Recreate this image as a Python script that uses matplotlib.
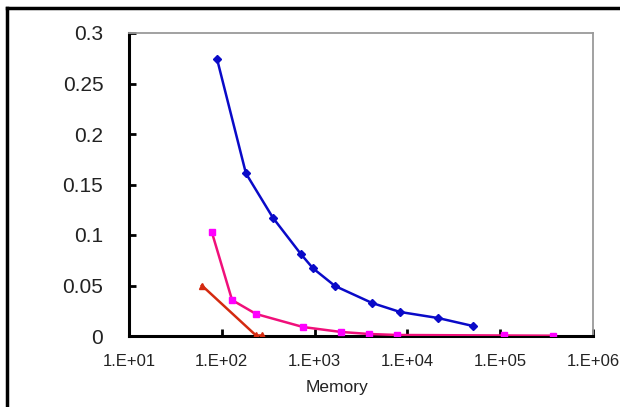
import matplotlib
matplotlib.use("Agg")
import matplotlib.pyplot as plt
from matplotlib.lines import Line2D
from matplotlib.ticker import FixedLocator, FixedFormatter, NullLocator

plt.rcParams['font.family'] = ['Liberation Sans', 'DejaVu Sans']

# Error versus memory for three methods
blue_mem = [89, 182, 356, 713, 961, 1660, 4160, 8320, 21400, 50900]
blue_err = [0.274, 0.161, 0.117, 0.081, 0.067, 0.0495, 0.0327, 0.0238, 0.0178, 0.0099]

pink_mem = [78, 129, 234, 750, 1920, 3860, 7730, 110000, 371000]
pink_err = [0.103, 0.0356, 0.0218, 0.0089, 0.004, 0.002, 0.001, 0.0005, 0.0003]

red_mem = [61, 234, 270]
red_err = [0.050, 0.0005, 0.0005]

x_ticks = [1e1, 1e2, 1e3, 1e4, 1e5, 1e6]
x_tick_labels = ["1.E+01", "1.E+02", "1.E+03", "1.E+04", "1.E+05", "1.E+06"]
y_ticks = [0, 0.05, 0.1, 0.15, 0.2, 0.25, 0.3]
y_tick_labels = ["0", "0.05", "0.1", "0.15", "0.2", "0.25", "0.3"]

fig = plt.figure(figsize=(6.2, 4.07), dpi=100)
ax = fig.add_axes([129 / 620, 71 / 407, 464 / 620, 303 / 407])

ax.plot(blue_mem, blue_err, color="#0A0AC8", lw=1.8, marker="D", ms=4.5,
        mfc="#0A0AC8", mec="#0A0AC8", zorder=4)
ax.plot(pink_mem, pink_err, color="#F0107A", lw=1.8, marker="s", ms=4,
        mfc="#FF00FF", mec="#FF00FF", zorder=3)
ax.plot(red_mem, red_err, color="#D42A10", lw=1.8, marker="^", ms=4,
        mfc="#D42A10", mec="#D42A10", zorder=3)

ax.set_xscale("log")
ax.set_xlim(1e1, 1e6)
ax.set_ylim(0, 0.3)
ax.xaxis.set_major_locator(FixedLocator(x_ticks))
ax.xaxis.set_major_formatter(FixedFormatter(x_tick_labels))
ax.xaxis.set_minor_locator(NullLocator())
ax.yaxis.set_major_locator(FixedLocator(y_ticks))
ax.yaxis.set_major_formatter(FixedFormatter(y_tick_labels))

ax.tick_params(axis="x", direction="in", length=5, width=2, pad=13,
               labelsize=12, colors="black", labelcolor="#222222")
ax.tick_params(axis="y", direction="in", length=5, width=2, pad=18.5,
               labelsize=15, colors="black", labelcolor="#222222")

for side in ("left", "bottom"):
    ax.spines[side].set_color("black")
    ax.spines[side].set_linewidth(2.2)
for side in ("top", "right"):
    ax.spines[side].set_color("#9a9a9a")
    ax.spines[side].set_linewidth(1.3)

ax.set_xlabel("Memory", fontsize=12.5, color="#222222")
ax.xaxis.set_label_coords(0.448, -0.145)

# Frame lines on the left and top edges of the figure
fig.add_artist(Line2D([7 / 620, 7 / 620], [0, 1 - 8 / 407], color="black",
                      lw=2.5, transform=fig.transFigure))
fig.add_artist(Line2D([7 / 620, 1], [1 - 8 / 407, 1 - 8 / 407], color="black",
                      lw=2.5, transform=fig.transFigure))

fig.savefig("out.png", dpi=100, facecolor="white")
